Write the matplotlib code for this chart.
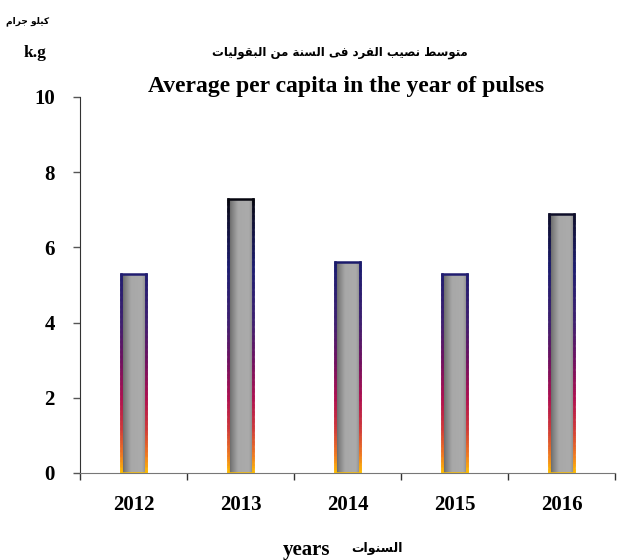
import matplotlib
matplotlib.use('Agg')
import matplotlib.pyplot as plt
import numpy as np
from matplotlib.collections import LineCollection
from matplotlib.colors import LinearSegmentedColormap

# data
years = ['2012', '2013', '2014', '2015', '2016']
values = [5.3, 7.3, 5.6, 5.3, 6.9]
y_ticks = [0, 2, 4, 6, 8, 10]

title_ar = 'متوسط نصيب الفرد فى السنة من البقوليات'
title_en = 'Average per capita in the year of pulses'
unit_ar = 'كيلو جرام'
unit_en = 'k.g'
xlabel_ar = 'السنوات'
xlabel_en = 'years'

# minimal arabic shaping (presentation forms, visual order)
# isolated, final, initial, medial
FORMS = {
    'ا': (0xFE8D, 0xFE8E, None, None),
    'ب': (0xFE8F, 0xFE90, 0xFE91, 0xFE92),
    'ة': (0xFE93, 0xFE94, None, None),
    'ت': (0xFE95, 0xFE96, 0xFE97, 0xFE98),
    'ج': (0xFE9D, 0xFE9E, 0xFE9F, 0xFEA0),
    'د': (0xFEA9, 0xFEAA, None, None),
    'ر': (0xFEAD, 0xFEAE, None, None),
    'س': (0xFEB1, 0xFEB2, 0xFEB3, 0xFEB4),
    'ص': (0xFEB9, 0xFEBA, 0xFEBB, 0xFEBC),
    'ط': (0xFEC1, 0xFEC2, 0xFEC3, 0xFEC4),
    'ف': (0xFED1, 0xFED2, 0xFED3, 0xFED4),
    'ق': (0xFED5, 0xFED6, 0xFED7, 0xFED8),
    'ك': (0xFED9, 0xFEDA, 0xFEDB, 0xFEDC),
    'ل': (0xFEDD, 0xFEDE, 0xFEDF, 0xFEE0),
    'م': (0xFEE1, 0xFEE2, 0xFEE3, 0xFEE4),
    'ن': (0xFEE5, 0xFEE6, 0xFEE7, 0xFEE8),
    'و': (0xFEED, 0xFEEE, None, None),
    'ى': (0xFEEF, 0xFEF0, None, None),
    'ي': (0xFEF1, 0xFEF2, 0xFEF3, 0xFEF4),
}


def shape(text):
    out = []
    for i, c in enumerate(text):
        if c not in FORMS:
            out.append(c)
            continue
        prev = text[i - 1] if i > 0 else ''
        nxt = text[i + 1] if i + 1 < len(text) else ''
        join_prev = prev in FORMS and FORMS[prev][2] is not None
        join_next = FORMS[c][2] is not None and nxt in FORMS
        iso, fin, ini, med = FORMS[c]
        if join_prev and join_next:
            code = med
        elif join_prev:
            code = fin
        elif join_next:
            code = ini
        else:
            code = iso
        out.append(chr(code))
    return ''.join(reversed(out))


serif = ['Liberation Serif', 'DejaVu Serif']
arabic = ['DejaVu Sans']

edge_cmap = LinearSegmentedColormap.from_list('edge', [
    (0.0, '#ffc000'), (0.05, '#f07a20'), (0.12, '#d03a3a'), (0.2, '#b01050'),
    (0.3, '#701060'), (0.4, '#402070'), (0.55, '#1c1c70'), (0.68, '#101030'),
    (0.75, '#000000'), (1.0, '#000000')])
fill_cmap = LinearSegmentedColormap.from_list('fill', [
    (0.0, '#5a5a5a'), (0.15, '#7e7e7e'), (0.4, '#a8a8a8'),
    (0.85, '#ababab'), (1.0, '#8c8c8c')])

fig = plt.figure(figsize=(6.21, 5.6), dpi=100)
ax = fig.add_axes((0.1288, 0.1554, 0.8615, 0.6714))

x = np.arange(len(years))
bar_w = 0.23
bars = ax.bar(x, values, width=bar_w, facecolor='none', edgecolor='none')

grad = np.linspace(0, 1, 64).reshape(1, -1)
for rect, v in zip(bars, values):
    x0 = rect.get_x()
    x1 = x0 + rect.get_width()
    im = ax.imshow(grad, cmap=fill_cmap, aspect='auto', extent=(x0, x1, 0, v),
                   zorder=2, interpolation='bicubic')
    im.set_clip_path(rect)
    # edges coloured by height
    ys = np.linspace(0, v, 120)
    segs, cols = [], []
    for xe in (x0, x1):
        for a, b in zip(ys[:-1], ys[1:]):
            segs.append([(xe, a), (xe, b)])
            cols.append(edge_cmap((a + b) / 20))
    segs.append([(x0, v), (x1, v)])
    cols.append(edge_cmap(v / 10))
    segs.append([(x0, 0), (x1, 0)])
    cols.append(edge_cmap(0))
    ax.add_collection(LineCollection(segs, colors=cols, linewidths=1.8,
                                     zorder=3, capstyle='projecting'))

ax.set_xlim(-0.5, len(years) - 0.5)
ax.set_ylim(0, 10)
ax.set_yticks(y_ticks)
ax.set_yticklabels([str(t) for t in y_ticks])
ax.set_xticks(x)
ax.set_xticklabels(years)
ax.set_xticks(np.arange(-0.5, len(years)), minor=True)
ax.tick_params(axis='x', which='major', length=0, pad=16)
ax.tick_params(axis='x', which='minor', length=5, width=1, color='#333333')
ax.tick_params(axis='y', length=5, width=1, color='#555555', pad=13)
for lab in ax.get_xticklabels() + ax.get_yticklabels():
    lab.set_fontfamily(serif)
    lab.set_fontweight('bold')
    lab.set_fontsize(15)

for side in ('top', 'right'):
    ax.spines[side].set_visible(False)
ax.spines['left'].set_color('#333333')
ax.spines['bottom'].set_color('#777777')
ax.spines['left'].set_zorder(4)
ax.spines['bottom'].set_zorder(4)

# titles and labels
fig.text(0.548, 0.906, shape(title_ar), ha='center', va='center',
         family=arabic, fontweight='bold', fontsize=8.5)
fig.text(0.557, 0.846, title_en, ha='center', va='center',
         family=serif, fontweight='bold', fontsize=17)
fig.text(0.045, 0.962, shape(unit_ar), ha='center', va='center',
         family=arabic, fontweight='bold', fontsize=6.5)
fig.text(0.057, 0.906, unit_en, ha='center', va='center',
         family=serif, fontweight='bold', fontsize=12.5)
fig.text(0.494, 0.018, xlabel_en, ha='center', va='center',
         family=serif, fontweight='bold', fontsize=15)
fig.text(0.607, 0.02, shape(xlabel_ar), ha='center', va='center',
         family=arabic, fontweight='bold', fontsize=9)

fig.savefig('out.png', dpi=100)
